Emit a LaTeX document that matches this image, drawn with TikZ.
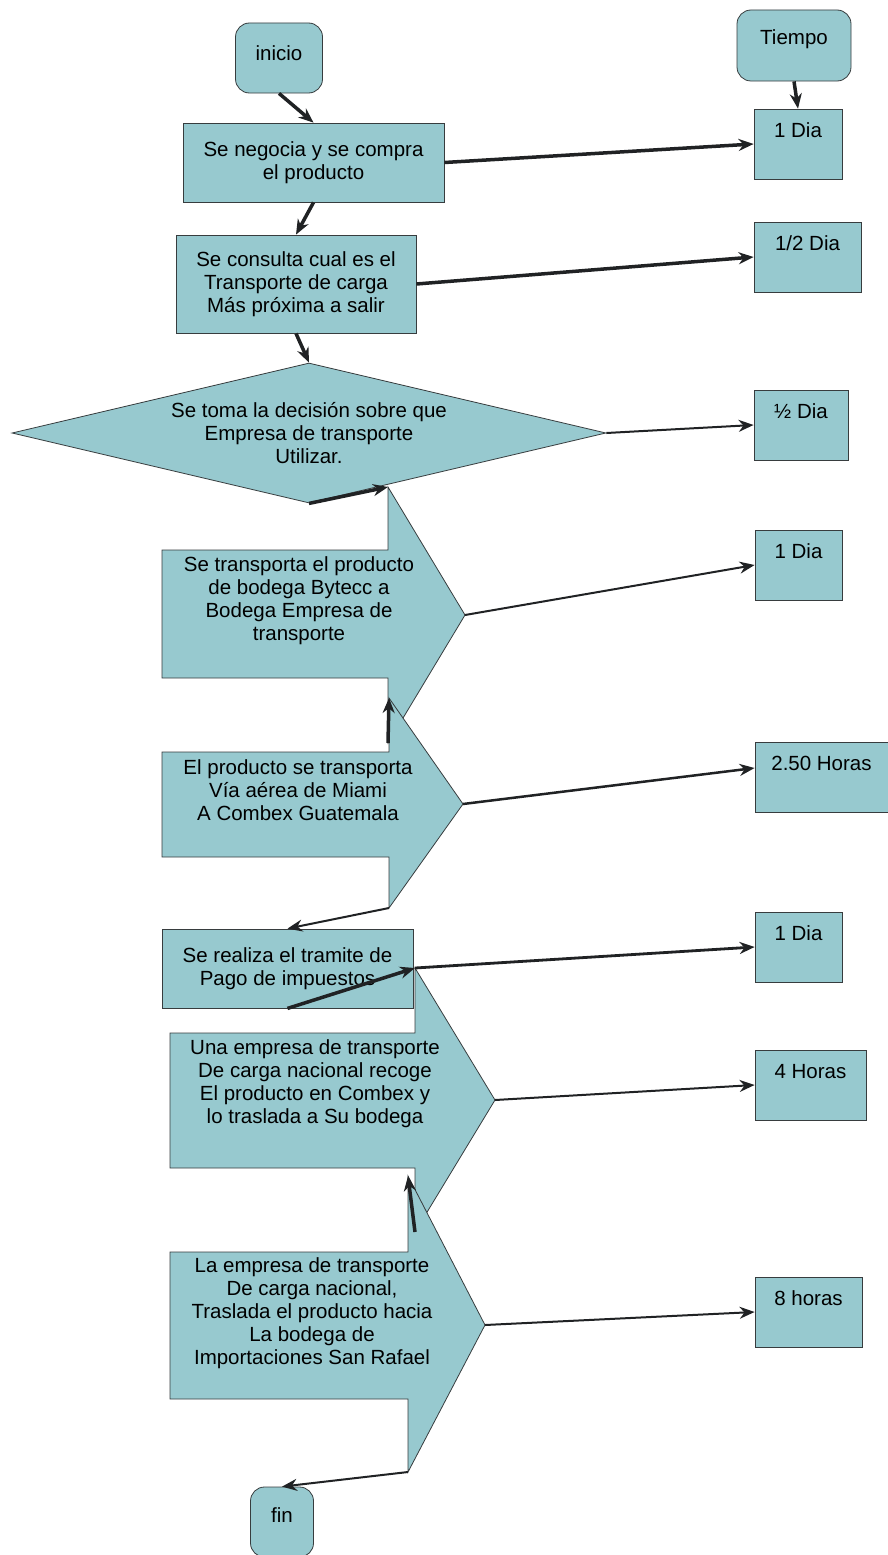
\documentclass[tikz,border=0pt]{standalone}
\usepackage{fontspec}
\setmainfont{Liberation Sans}
\usetikzlibrary{arrows.meta}
\usetikzlibrary{shapes.geometric}

\definecolor{caja}{RGB}{151,201,207}
\definecolor{borde}{RGB}{55,60,62}
\definecolor{linea}{RGB}{32,34,36}

\tikzset{
  terminal/.style={draw=borde, fill=caja, rounded corners=14pt, inner sep=0pt, line width=0.8pt},
  proceso/.style={draw=borde, fill=caja, inner sep=0pt, align=center, line width=0.8pt},
  tiempo/.style={proceso, text height=28pt, text depth=42pt},
  rombo/.style={diamond, aspect=4.24, draw=borde, fill=caja, inner sep=0pt, align=center, line width=0.8pt},
  bloque/.style={draw=borde, fill=caja, line width=0.8pt, line join=miter},
  texto/.style={align=center},
  flecha/.style={draw=linea, line width=2pt, -{Stealth[length=15pt,width=12pt]}},
  flechagruesa/.style={flecha, line width=3.5pt},
}

\begin{document}
\begin{tikzpicture}[x=1pt, y=-1pt, font=\fontsize{20.5}{23}\selectfont]
\useasboundingbox (0,0) rectangle (888,1555);

% procesos
\node[terminal, minimum width=87pt, text height=37pt, text depth=33pt] at (279,58) (inicio) {inicio};
\node[proceso, minimum width=261pt, minimum height=79pt] at (313.5,162.5) (negocia) {Se negocia y se compra\\el producto};
\node[proceso, minimum width=240pt, minimum height=98pt] at (296,284) (consulta) {Se consulta cual es el\\Transporte de carga\\Más próxima a salir};
\node[rombo, minimum width=594pt, minimum height=140pt] at (309,433) (decide) {Se toma la decisión sobre que\\Empresa de transporte\\Utilizar.};

\draw[bloque] (162,550) -- (388,550) -- (388,487) coordinate (p1top) -- (465,615) coordinate (p1tip) -- (388,743) coordinate (p1bot) -- (388,678) -- (162,678) -- cycle;
\node[texto] at (299,601) (bytecc) {Se transporta el producto\\de bodega Bytecc a\\Bodega Empresa de\\transporte};

\draw[bloque] (162,752) -- (389,752) -- (389,698) coordinate (p2top) -- (463,804) coordinate (p2tip) -- (389,908) coordinate (p2bot) -- (389,857) -- (162,857) -- cycle;
\node[texto] at (298,790) (miami) {El producto se transporta\\Vía aérea de Miami\\A Combex Guatemala};

\node[proceso, minimum width=251pt, minimum height=79pt] at (287.5,968.5) (tramite) {Se realiza el tramite de\\Pago de impuestos};

\draw[bloque] (170,1033) -- (415,1033) -- (415,968) coordinate (p3top) -- (495,1100) coordinate (p3tip) -- (415,1232) coordinate (p3bot) -- (415,1168) -- (170,1168) -- cycle;
\node[texto] at (315,1084) (combex) {Una empresa de transporte\\De carga nacional recoge\\El producto en Combex y\\lo traslada a Su bodega};

\draw[bloque] (170,1252) -- (408,1252) -- (408,1176) coordinate (p4top) -- (485,1325) coordinate (p4tip) -- (408,1472) coordinate (p4bot) -- (408,1399) -- (170,1399) -- cycle;
\node[texto] at (312,1313) (rafael) {La empresa de transporte\\De carga nacional,\\Traslada el producto hacia\\La bodega de\\Importaciones San Rafael};

\node[terminal, minimum width=63pt, text height=35pt, text depth=35pt] at (282,1522) (fin) {fin};

% tiempos
\node[terminal, minimum width=114pt, text height=35pt, text depth=36pt] at (794,45.5) (tiempo) {Tiempo};
\node[tiempo, minimum width=88pt] at (798,144) (t1) {1 Dia};
\node[tiempo, minimum width=107pt] at (807.5,257) (t2) {1/2 Dia};
\node[tiempo, minimum width=94pt] at (801,425) (t3) {½ Dia};
\node[tiempo, minimum width=87pt] at (798.5,565) (t4) {1 Dia};
\node[tiempo, minimum width=133pt] at (821.5,777) (t5) {2.50 Horas};
\node[tiempo, minimum width=87pt] at (798.5,947) (t6) {1 Dia};
\node[tiempo, minimum width=111pt] at (810.5,1085) (t7) {4 Horas};
\node[tiempo, minimum width=107pt] at (808.5,1312) (t8) {8 horas};

% flechas
\draw[flechagruesa] (inicio.south) -- (negocia.north);
\draw[flechagruesa] (tiempo.south) -- (t1.north);
\draw[flechagruesa] (negocia.east) -- (t1.west);
\draw[flechagruesa] (negocia.south) -- (consulta.north);
\draw[flechagruesa] (consulta.east) -- (t2.west);
\draw[flechagruesa] (consulta.south) -- (decide.north);
\draw[flecha] (decide.east) -- (t3.west);
\draw[flechagruesa] (decide.south) -- (p1top);
\draw[flecha] (p1tip) -- (t4.west);
\draw[flechagruesa] (p1bot) -- (p2top);
\draw[flecha, line width=2.5pt] (p2tip) -- ([yshift=9pt]t5.west);
\draw[flecha] (p2bot) -- (tramite.north);
\draw[flechagruesa] (tramite.south) -- (p3top);
\draw[flecha, line width=2.8pt] (p3top) -- (t6.west);
\draw[flecha] (p3tip) -- (t7.west);
\draw[flechagruesa] (p3bot) -- (p4top);
\draw[flecha] (p4tip) -- (t8.west);
\draw[flecha] (p4bot) -- (fin.north);

\end{tikzpicture}
\end{document}
